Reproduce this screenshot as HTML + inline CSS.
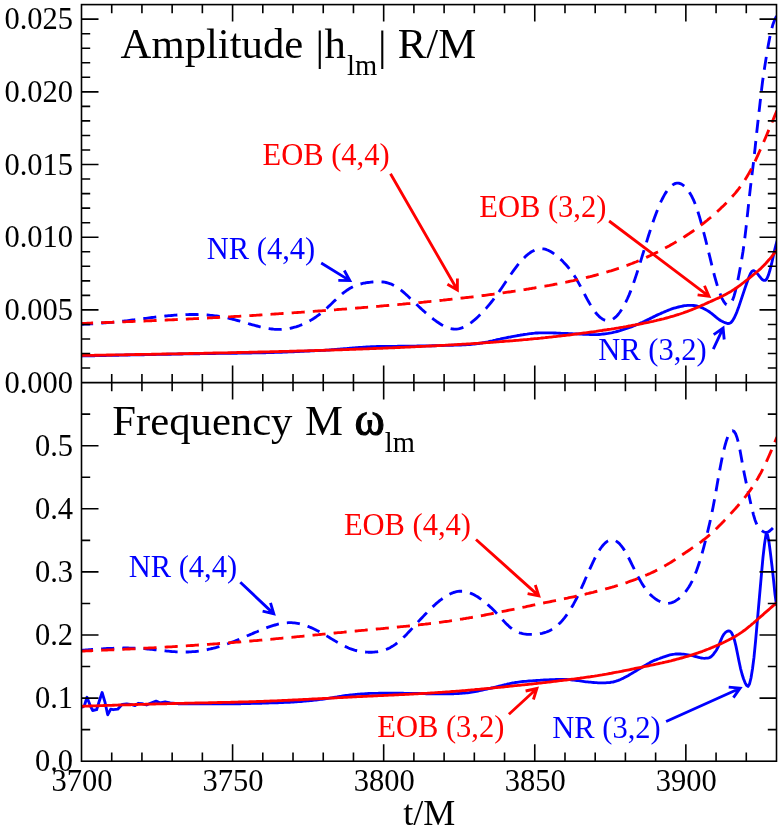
<!DOCTYPE html>
<html>
<head>
<meta charset="utf-8">
<title>Amplitude and Frequency: NR vs EOB</title>
<style>
html, body { margin: 0; padding: 0; background: #ffffff; }
body { width: 781px; height: 830px; overflow: hidden; font-family: "Liberation Serif", serif; }
svg { display: block; transform: translateZ(0); will-change: transform; }
</style>
</head>
<body>
<svg width="781" height="830" viewBox="0 0 781 830" font-family="'Liberation Serif', serif">
<rect x="0" y="0" width="781" height="830" fill="#ffffff"/>
<defs>
<clipPath id="c1"><rect x="81.5" y="4.6" width="695.0" height="378.0"/></clipPath>
<clipPath id="c2"><rect x="81.5" y="382.6" width="695.0" height="378.6"/></clipPath>
</defs>
<g fill="none" stroke-width="2.85" stroke-linejoin="round" clip-path="url(#c1)">
<path d="M80.0,324.5 L81.5,324.4 L83.0,324.3 L84.5,324.2 L86.0,324.1 L87.5,324.0 L89.0,324.0 L90.5,323.9 L92.0,323.8 L93.5,323.7 L95.0,323.6 L96.5,323.5 L98.0,323.4 L99.5,323.3 L101.0,323.2 L102.5,323.0 L104.0,322.9 L105.5,322.8 L107.0,322.7 L108.5,322.6 L110.0,322.4 L111.5,322.3 L113.0,322.2 L114.5,322.0 L116.0,321.9 L117.5,321.8 L119.0,321.6 L120.5,321.4 L122.0,321.3 L123.5,321.1 L125.0,320.9 L126.5,320.8 L128.0,320.6 L129.5,320.4 L131.0,320.2 L132.5,320.0 L134.0,319.8 L135.5,319.7 L137.0,319.5 L138.5,319.3 L140.0,319.1 L141.5,318.9 L143.0,318.7 L144.5,318.5 L146.0,318.3 L147.5,318.1 L149.0,317.9 L150.5,317.7 L152.0,317.5 L153.5,317.4 L155.0,317.2 L156.5,317.0 L158.0,316.8 L159.5,316.7 L161.0,316.5 L162.5,316.3 L164.0,316.2 L165.5,316.0 L167.0,315.9 L168.5,315.7 L170.0,315.6 L171.5,315.5 L173.0,315.4 L174.5,315.2 L176.0,315.1 L177.5,315.0 L179.0,314.9 L180.5,314.9 L182.0,314.8 L183.5,314.7 L185.0,314.7 L186.5,314.6 L188.0,314.6 L189.5,314.5 L191.0,314.5 L192.5,314.5 L194.0,314.5 L195.5,314.5 L197.0,314.5 L198.5,314.6 L200.0,314.6 L201.5,314.7 L203.0,314.7 L204.5,314.8 L206.0,314.9 L207.5,315.0 L209.0,315.1 L210.5,315.3 L212.0,315.4 L213.5,315.6 L215.0,315.8 L216.5,316.0 L218.0,316.2 L219.5,316.4 L221.0,316.6 L222.5,316.9 L224.0,317.2 L225.5,317.5 L227.0,317.8 L228.5,318.2 L230.0,318.5 L231.5,318.9 L233.0,319.3 L234.5,319.7 L236.0,320.1 L237.5,320.5 L239.0,320.9 L240.5,321.3 L242.0,321.8 L243.5,322.2 L245.0,322.6 L246.5,323.1 L248.0,323.5 L249.5,324.0 L251.0,324.4 L252.5,324.8 L254.0,325.2 L255.5,325.6 L257.0,326.0 L258.5,326.4 L260.0,326.8 L261.5,327.1 L263.0,327.5 L264.5,327.8 L266.0,328.1 L267.5,328.4 L269.0,328.6 L270.5,328.8 L272.0,329.0 L273.5,329.2 L275.0,329.3 L276.5,329.4 L278.0,329.4 L279.5,329.4 L281.0,329.4 L282.5,329.3 L284.0,329.2 L285.5,329.0 L287.0,328.8 L288.5,328.6 L290.0,328.3 L291.5,328.0 L293.0,327.6 L294.5,327.2 L296.0,326.8 L297.5,326.3 L299.0,325.8 L300.5,325.2 L302.0,324.6 L303.5,324.0 L305.0,323.3 L306.5,322.6 L308.0,321.8 L309.5,321.0 L311.0,320.1 L312.5,319.2 L314.0,318.3 L315.5,317.3 L317.0,316.2 L318.5,315.1 L320.0,314.0 L321.5,312.8 L323.0,311.6 L324.5,310.3 L326.0,308.9 L327.5,307.6 L329.0,306.1 L330.5,304.7 L332.0,303.3 L333.5,301.8 L335.0,300.4 L336.5,299.0 L338.0,297.6 L339.5,296.2 L341.0,294.9 L342.5,293.6 L344.0,292.4 L345.5,291.3 L347.0,290.2 L348.5,289.2 L350.0,288.3 L351.5,287.5 L353.0,286.7 L354.5,286.1 L356.0,285.4 L357.5,284.9 L359.0,284.4 L360.5,284.0 L362.0,283.6 L363.5,283.2 L365.0,283.0 L366.5,282.7 L368.0,282.5 L369.5,282.3 L371.0,282.1 L372.5,282.0 L374.0,281.9 L375.5,281.8 L377.0,281.8 L378.5,281.8 L380.0,281.8 L381.5,281.9 L383.0,282.0 L384.5,282.2 L386.0,282.5 L387.5,282.9 L389.0,283.3 L390.5,283.8 L392.0,284.4 L393.5,285.2 L395.0,286.0 L396.5,286.9 L398.0,287.9 L399.5,289.0 L401.0,290.2 L402.5,291.4 L404.0,292.7 L405.5,294.0 L407.0,295.3 L408.5,296.7 L410.0,298.2 L411.5,299.6 L413.0,301.0 L414.5,302.5 L416.0,303.9 L417.5,305.3 L419.0,306.7 L420.5,308.1 L422.0,309.5 L423.5,310.8 L425.0,312.2 L426.5,313.5 L428.0,314.8 L429.5,316.0 L431.0,317.2 L432.5,318.4 L434.0,319.6 L435.5,320.7 L437.0,321.8 L438.5,322.8 L440.0,323.8 L441.5,324.7 L443.0,325.5 L444.5,326.3 L446.0,327.0 L447.5,327.6 L449.0,328.1 L450.5,328.5 L452.0,328.8 L453.5,329.0 L455.0,329.1 L456.5,329.1 L458.0,328.9 L459.5,328.6 L461.0,328.2 L462.5,327.6 L464.0,327.0 L465.5,326.2 L467.0,325.4 L468.5,324.4 L470.0,323.4 L471.5,322.3 L473.0,321.1 L474.5,319.9 L476.0,318.6 L477.5,317.2 L479.0,315.8 L480.5,314.3 L482.0,312.8 L483.5,311.2 L485.0,309.6 L486.5,307.9 L488.0,306.1 L489.5,304.3 L491.0,302.5 L492.5,300.6 L494.0,298.6 L495.5,296.6 L497.0,294.6 L498.5,292.5 L500.0,290.4 L501.5,288.2 L503.0,286.0 L504.5,283.8 L506.0,281.5 L507.5,279.3 L509.0,277.1 L510.5,274.9 L512.0,272.7 L513.5,270.6 L515.0,268.6 L516.5,266.6 L518.0,264.6 L519.5,262.8 L521.0,261.1 L522.5,259.4 L524.0,257.9 L525.5,256.4 L527.0,255.1 L528.5,253.9 L530.0,252.8 L531.5,251.8 L533.0,251.0 L534.5,250.2 L536.0,249.7 L537.5,249.2 L539.0,248.9 L540.5,248.8 L542.0,248.8 L543.5,248.9 L545.0,249.2 L546.5,249.7 L548.0,250.3 L549.5,251.0 L551.0,251.8 L552.5,252.7 L554.0,253.8 L555.5,254.9 L557.0,256.1 L558.5,257.4 L560.0,258.7 L561.5,260.1 L563.0,261.6 L564.5,263.2 L566.0,264.8 L567.5,266.5 L569.0,268.4 L570.5,270.3 L572.0,272.4 L573.5,274.5 L575.0,276.8 L576.5,279.3 L578.0,281.9 L579.5,284.6 L581.0,287.4 L582.5,290.3 L584.0,293.1 L585.5,296.0 L587.0,298.8 L588.5,301.5 L590.0,304.1 L591.5,306.6 L593.0,308.9 L594.5,311.1 L596.0,313.0 L597.5,314.8 L599.0,316.3 L600.5,317.6 L602.0,318.7 L603.5,319.6 L605.0,320.2 L606.5,320.6 L608.0,320.7 L609.5,320.5 L611.0,320.1 L612.5,319.4 L614.0,318.4 L615.5,317.2 L617.0,315.7 L618.5,314.0 L620.0,312.0 L621.5,309.8 L623.0,307.3 L624.5,304.7 L626.0,301.7 L627.5,298.5 L629.0,295.1 L630.5,291.4 L632.0,287.5 L633.5,283.3 L635.0,278.9 L636.5,274.4 L638.0,269.7 L639.5,264.9 L641.0,260.1 L642.5,255.2 L644.0,250.3 L645.5,245.4 L647.0,240.6 L648.5,235.8 L650.0,231.1 L651.5,226.5 L653.0,222.0 L654.5,217.8 L656.0,213.7 L657.5,209.8 L659.0,206.1 L660.5,202.6 L662.0,199.5 L663.5,196.6 L665.0,193.9 L666.5,191.6 L668.0,189.5 L669.5,187.7 L671.0,186.2 L672.5,185.0 L674.0,184.1 L675.5,183.4 L677.0,183.1 L678.5,183.1 L680.0,183.5 L681.5,184.1 L683.0,185.1 L684.5,186.3 L686.0,187.9 L687.5,189.7 L689.0,191.8 L690.5,194.1 L692.0,196.8 L693.5,199.9 L695.0,203.5 L696.5,207.5 L698.0,212.0 L699.5,216.9 L701.0,222.2 L702.5,227.8 L704.0,233.5 L705.5,239.4 L707.0,245.4 L708.5,251.5 L710.0,257.7 L711.5,263.9 L713.0,269.9 L714.5,275.8 L716.0,281.2 L717.5,286.2 L719.0,290.7 L720.5,294.8 L722.0,298.3 L723.5,301.1 L725.0,303.3 L726.5,304.6 L728.0,305.1 L729.5,304.5 L731.0,303.0 L732.5,300.2 L734.0,296.2 L735.5,290.8 L737.0,284.3 L738.5,277.0 L740.0,269.1 L741.5,260.7 L743.0,251.5 L744.5,240.8 L746.0,228.1 L747.5,214.3 L749.0,200.3 L750.5,186.9 L752.0,174.5 L753.5,162.4 L755.0,148.9 L756.5,134.6 L758.0,121.0 L759.5,107.8 L761.0,94.4 L762.5,82.0 L764.0,71.5 L765.5,61.9 L767.0,52.6 L768.5,43.9 L770.0,36.2 L771.5,29.5 L773.0,24.2 L774.5,20.2 L776.0,17.2 L777.5,14.8" stroke="#0000ff" stroke-dasharray="13.1 8.1"/>
<path d="M80.0,323.5 L81.5,323.4 L83.0,323.4 L84.5,323.3 L86.0,323.3 L87.5,323.2 L89.0,323.2 L90.5,323.1 L92.0,323.0 L93.5,323.0 L95.0,322.9 L96.5,322.9 L98.0,322.8 L99.5,322.8 L101.0,322.7 L102.5,322.6 L104.0,322.6 L105.5,322.5 L107.0,322.5 L108.5,322.4 L110.0,322.4 L111.5,322.3 L113.0,322.2 L114.5,322.2 L116.0,322.1 L117.5,322.1 L119.0,322.0 L120.5,321.9 L122.0,321.9 L123.5,321.8 L125.0,321.8 L126.5,321.7 L128.0,321.6 L129.5,321.6 L131.0,321.5 L132.5,321.5 L134.0,321.4 L135.5,321.3 L137.0,321.3 L138.5,321.2 L140.0,321.2 L141.5,321.1 L143.0,321.0 L144.5,321.0 L146.0,320.9 L147.5,320.8 L149.0,320.8 L150.5,320.7 L152.0,320.7 L153.5,320.6 L155.0,320.5 L156.5,320.5 L158.0,320.4 L159.5,320.3 L161.0,320.3 L162.5,320.2 L164.0,320.1 L165.5,320.1 L167.0,320.0 L168.5,319.9 L170.0,319.9 L171.5,319.8 L173.0,319.7 L174.5,319.7 L176.0,319.6 L177.5,319.5 L179.0,319.4 L180.5,319.4 L182.0,319.3 L183.5,319.2 L185.0,319.2 L186.5,319.1 L188.0,319.0 L189.5,318.9 L191.0,318.9 L192.5,318.8 L194.0,318.7 L195.5,318.6 L197.0,318.6 L198.5,318.5 L200.0,318.4 L201.5,318.3 L203.0,318.3 L204.5,318.2 L206.0,318.1 L207.5,318.0 L209.0,317.9 L210.5,317.9 L212.0,317.8 L213.5,317.7 L215.0,317.6 L216.5,317.5 L218.0,317.5 L219.5,317.4 L221.0,317.3 L222.5,317.2 L224.0,317.1 L225.5,317.0 L227.0,317.0 L228.5,316.9 L230.0,316.8 L231.5,316.7 L233.0,316.6 L234.5,316.5 L236.0,316.4 L237.5,316.4 L239.0,316.3 L240.5,316.2 L242.0,316.1 L243.5,316.0 L245.0,315.9 L246.5,315.8 L248.0,315.7 L249.5,315.6 L251.0,315.6 L252.5,315.5 L254.0,315.4 L255.5,315.3 L257.0,315.2 L258.5,315.1 L260.0,315.0 L261.5,314.9 L263.0,314.8 L264.5,314.7 L266.0,314.6 L267.5,314.5 L269.0,314.4 L270.5,314.3 L272.0,314.2 L273.5,314.1 L275.0,314.0 L276.5,313.9 L278.0,313.8 L279.5,313.7 L281.0,313.6 L282.5,313.5 L284.0,313.4 L285.5,313.3 L287.0,313.2 L288.5,313.1 L290.0,313.0 L291.5,312.9 L293.0,312.8 L294.5,312.7 L296.0,312.6 L297.5,312.5 L299.0,312.4 L300.5,312.3 L302.0,312.2 L303.5,312.1 L305.0,312.0 L306.5,311.9 L308.0,311.8 L309.5,311.7 L311.0,311.6 L312.5,311.4 L314.0,311.3 L315.5,311.2 L317.0,311.1 L318.5,311.0 L320.0,310.9 L321.5,310.8 L323.0,310.7 L324.5,310.6 L326.0,310.5 L327.5,310.3 L329.0,310.2 L330.5,310.1 L332.0,310.0 L333.5,309.9 L335.0,309.8 L336.5,309.7 L338.0,309.5 L339.5,309.4 L341.0,309.3 L342.5,309.2 L344.0,309.1 L345.5,309.0 L347.0,308.8 L348.5,308.7 L350.0,308.6 L351.5,308.5 L353.0,308.4 L354.5,308.2 L356.0,308.1 L357.5,308.0 L359.0,307.9 L360.5,307.8 L362.0,307.6 L363.5,307.5 L365.0,307.4 L366.5,307.3 L368.0,307.1 L369.5,307.0 L371.0,306.9 L372.5,306.8 L374.0,306.6 L375.5,306.5 L377.0,306.4 L378.5,306.3 L380.0,306.1 L381.5,306.0 L383.0,305.9 L384.5,305.7 L386.0,305.6 L387.5,305.5 L389.0,305.4 L390.5,305.2 L392.0,305.1 L393.5,305.0 L395.0,304.8 L396.5,304.7 L398.0,304.6 L399.5,304.4 L401.0,304.3 L402.5,304.2 L404.0,304.0 L405.5,303.9 L407.0,303.7 L408.5,303.6 L410.0,303.5 L411.5,303.3 L413.0,303.2 L414.5,303.0 L416.0,302.9 L417.5,302.8 L419.0,302.6 L420.5,302.5 L422.0,302.3 L423.5,302.2 L425.0,302.0 L426.5,301.9 L428.0,301.7 L429.5,301.6 L431.0,301.4 L432.5,301.3 L434.0,301.1 L435.5,301.0 L437.0,300.8 L438.5,300.7 L440.0,300.5 L441.5,300.3 L443.0,300.2 L444.5,300.0 L446.0,299.9 L447.5,299.7 L449.0,299.5 L450.5,299.4 L452.0,299.2 L453.5,299.0 L455.0,298.9 L456.5,298.7 L458.0,298.5 L459.5,298.4 L461.0,298.2 L462.5,298.0 L464.0,297.9 L465.5,297.7 L467.0,297.5 L468.5,297.3 L470.0,297.1 L471.5,297.0 L473.0,296.8 L474.5,296.6 L476.0,296.4 L477.5,296.2 L479.0,296.0 L480.5,295.9 L482.0,295.7 L483.5,295.5 L485.0,295.3 L486.5,295.1 L488.0,294.9 L489.5,294.7 L491.0,294.5 L492.5,294.3 L494.0,294.1 L495.5,293.9 L497.0,293.7 L498.5,293.5 L500.0,293.3 L501.5,293.1 L503.0,292.8 L504.5,292.6 L506.0,292.4 L507.5,292.2 L509.0,292.0 L510.5,291.8 L512.0,291.5 L513.5,291.3 L515.0,291.1 L516.5,290.9 L518.0,290.6 L519.5,290.4 L521.0,290.2 L522.5,289.9 L524.0,289.7 L525.5,289.5 L527.0,289.2 L528.5,289.0 L530.0,288.7 L531.5,288.5 L533.0,288.2 L534.5,288.0 L536.0,287.7 L537.5,287.5 L539.0,287.2 L540.5,287.0 L542.0,286.7 L543.5,286.4 L545.0,286.2 L546.5,285.9 L548.0,285.6 L549.5,285.4 L551.0,285.1 L552.5,284.8 L554.0,284.5 L555.5,284.2 L557.0,284.0 L558.5,283.7 L560.0,283.4 L561.5,283.1 L563.0,282.8 L564.5,282.5 L566.0,282.2 L567.5,281.8 L569.0,281.5 L570.5,281.2 L572.0,280.9 L573.5,280.6 L575.0,280.2 L576.5,279.9 L578.0,279.6 L579.5,279.2 L581.0,278.9 L582.5,278.5 L584.0,278.1 L585.5,277.8 L587.0,277.4 L588.5,277.0 L590.0,276.7 L591.5,276.3 L593.0,275.9 L594.5,275.5 L596.0,275.1 L597.5,274.7 L599.0,274.3 L600.5,273.9 L602.0,273.4 L603.5,273.0 L605.0,272.6 L606.5,272.1 L608.0,271.7 L609.5,271.2 L611.0,270.8 L612.5,270.3 L614.0,269.8 L615.5,269.3 L617.0,268.8 L618.5,268.3 L620.0,267.8 L621.5,267.3 L623.0,266.8 L624.5,266.3 L626.0,265.7 L627.5,265.2 L629.0,264.6 L630.5,264.0 L632.0,263.5 L633.5,262.9 L635.0,262.3 L636.5,261.7 L638.0,261.0 L639.5,260.4 L641.0,259.8 L642.5,259.1 L644.0,258.5 L645.5,257.8 L647.0,257.1 L648.5,256.4 L650.0,255.7 L651.5,255.0 L653.0,254.3 L654.5,253.6 L656.0,252.8 L657.5,252.1 L659.0,251.3 L660.5,250.5 L662.0,249.7 L663.5,248.9 L665.0,248.1 L666.5,247.3 L668.0,246.5 L669.5,245.7 L671.0,244.8 L672.5,244.0 L674.0,243.1 L675.5,242.2 L677.0,241.3 L678.5,240.4 L680.0,239.5 L681.5,238.6 L683.0,237.6 L684.5,236.7 L686.0,235.7 L687.5,234.7 L689.0,233.8 L690.5,232.7 L692.0,231.7 L693.5,230.7 L695.0,229.6 L696.5,228.5 L698.0,227.4 L699.5,226.3 L701.0,225.2 L702.5,224.0 L704.0,222.9 L705.5,221.7 L707.0,220.5 L708.5,219.2 L710.0,218.0 L711.5,216.7 L713.0,215.4 L714.5,214.1 L716.0,212.7 L717.5,211.4 L719.0,210.0 L720.5,208.6 L722.0,207.1 L723.5,205.7 L725.0,204.2 L726.5,202.7 L728.0,201.2 L729.5,199.6 L731.0,198.0 L732.5,196.3 L734.0,194.6 L735.5,192.9 L737.0,191.0 L738.5,189.1 L740.0,187.1 L741.5,185.1 L743.0,182.9 L744.5,180.6 L746.0,178.2 L747.5,175.7 L749.0,173.1 L750.5,170.4 L752.0,167.5 L753.5,164.5 L755.0,161.4 L756.5,158.2 L758.0,154.9 L759.5,151.5 L761.0,148.1 L762.5,144.7 L764.0,141.2 L765.5,137.7 L767.0,134.2 L768.5,130.6 L770.0,127.1 L771.5,123.6 L773.0,120.0 L774.5,116.4 L776.0,112.9 L777.0,110.5" stroke="#ff0000" stroke-dasharray="13.1 8.1"/>
<path d="M80.0,356.0 L81.5,356.0 L83.0,355.9 L84.5,355.9 L86.0,355.9 L87.5,355.8 L89.0,355.8 L90.5,355.8 L92.0,355.7 L93.5,355.7 L95.0,355.7 L96.5,355.6 L98.0,355.6 L99.5,355.6 L101.0,355.5 L102.5,355.5 L104.0,355.5 L105.5,355.5 L107.0,355.4 L108.5,355.4 L110.0,355.4 L111.5,355.3 L113.0,355.3 L114.5,355.3 L116.0,355.2 L117.5,355.2 L119.0,355.2 L120.5,355.1 L122.0,355.1 L123.5,355.1 L125.0,355.1 L126.5,355.0 L128.0,355.0 L129.5,355.0 L131.0,354.9 L132.5,354.9 L134.0,354.9 L135.5,354.9 L137.0,354.8 L138.5,354.8 L140.0,354.8 L141.5,354.7 L143.0,354.7 L144.5,354.7 L146.0,354.6 L147.5,354.6 L149.0,354.6 L150.5,354.6 L152.0,354.5 L153.5,354.5 L155.0,354.5 L156.5,354.4 L158.0,354.4 L159.5,354.4 L161.0,354.4 L162.5,354.3 L164.0,354.3 L165.5,354.3 L167.0,354.2 L168.5,354.2 L170.0,354.2 L171.5,354.2 L173.0,354.1 L174.5,354.1 L176.0,354.1 L177.5,354.0 L179.0,354.0 L180.5,354.0 L182.0,354.0 L183.5,353.9 L185.0,353.9 L186.5,353.9 L188.0,353.9 L189.5,353.8 L191.0,353.8 L192.5,353.8 L194.0,353.8 L195.5,353.7 L197.0,353.7 L198.5,353.7 L200.0,353.7 L201.5,353.6 L203.0,353.6 L204.5,353.6 L206.0,353.6 L207.5,353.6 L209.0,353.5 L210.5,353.5 L212.0,353.5 L213.5,353.5 L215.0,353.5 L216.5,353.4 L218.0,353.4 L219.5,353.4 L221.0,353.4 L222.5,353.4 L224.0,353.3 L225.5,353.3 L227.0,353.3 L228.5,353.3 L230.0,353.3 L231.5,353.2 L233.0,353.2 L234.5,353.2 L236.0,353.2 L237.5,353.2 L239.0,353.1 L240.5,353.1 L242.0,353.1 L243.5,353.1 L245.0,353.0 L246.5,353.0 L248.0,353.0 L249.5,353.0 L251.0,353.0 L252.5,352.9 L254.0,352.9 L255.5,352.9 L257.0,352.9 L258.5,352.8 L260.0,352.8 L261.5,352.8 L263.0,352.7 L264.5,352.7 L266.0,352.7 L267.5,352.6 L269.0,352.6 L270.5,352.6 L272.0,352.5 L273.5,352.5 L275.0,352.4 L276.5,352.4 L278.0,352.3 L279.5,352.3 L281.0,352.2 L282.5,352.2 L284.0,352.1 L285.5,352.1 L287.0,352.0 L288.5,351.9 L290.0,351.9 L291.5,351.8 L293.0,351.7 L294.5,351.7 L296.0,351.6 L297.5,351.6 L299.0,351.5 L300.5,351.4 L302.0,351.3 L303.5,351.3 L305.0,351.2 L306.5,351.1 L308.0,351.1 L309.5,351.0 L311.0,350.9 L312.5,350.9 L314.0,350.8 L315.5,350.7 L317.0,350.6 L318.5,350.6 L320.0,350.5 L321.5,350.4 L323.0,350.3 L324.5,350.3 L326.0,350.2 L327.5,350.1 L329.0,350.0 L330.5,349.8 L332.0,349.7 L333.5,349.6 L335.0,349.5 L336.5,349.4 L338.0,349.2 L339.5,349.1 L341.0,349.0 L342.5,348.9 L344.0,348.7 L345.5,348.6 L347.0,348.5 L348.5,348.3 L350.0,348.2 L351.5,348.1 L353.0,347.9 L354.5,347.8 L356.0,347.7 L357.5,347.6 L359.0,347.5 L360.5,347.4 L362.0,347.3 L363.5,347.2 L365.0,347.1 L366.5,347.0 L368.0,346.9 L369.5,346.8 L371.0,346.7 L372.5,346.7 L374.0,346.6 L375.5,346.6 L377.0,346.5 L378.5,346.5 L380.0,346.5 L381.5,346.4 L383.0,346.4 L384.5,346.4 L386.0,346.4 L387.5,346.3 L389.0,346.3 L390.5,346.3 L392.0,346.3 L393.5,346.3 L395.0,346.3 L396.5,346.3 L398.0,346.2 L399.5,346.2 L401.0,346.2 L402.5,346.2 L404.0,346.2 L405.5,346.2 L407.0,346.2 L408.5,346.2 L410.0,346.1 L411.5,346.1 L413.0,346.1 L414.5,346.1 L416.0,346.1 L417.5,346.0 L419.0,346.0 L420.5,346.0 L422.0,346.0 L423.5,345.9 L425.0,345.9 L426.5,345.9 L428.0,345.8 L429.5,345.8 L431.0,345.8 L432.5,345.7 L434.0,345.7 L435.5,345.7 L437.0,345.6 L438.5,345.6 L440.0,345.6 L441.5,345.5 L443.0,345.5 L444.5,345.4 L446.0,345.4 L447.5,345.4 L449.0,345.3 L450.5,345.3 L452.0,345.2 L453.5,345.2 L455.0,345.1 L456.5,345.1 L458.0,345.1 L459.5,345.0 L461.0,345.0 L462.5,344.9 L464.0,344.8 L465.5,344.8 L467.0,344.7 L468.5,344.6 L470.0,344.5 L471.5,344.4 L473.0,344.2 L474.5,344.0 L476.0,343.9 L477.5,343.7 L479.0,343.5 L480.5,343.2 L482.0,343.0 L483.5,342.7 L485.0,342.4 L486.5,342.1 L488.0,341.8 L489.5,341.4 L491.0,341.1 L492.5,340.8 L494.0,340.4 L495.5,340.1 L497.0,339.7 L498.5,339.4 L500.0,339.1 L501.5,338.7 L503.0,338.4 L504.5,338.1 L506.0,337.8 L507.5,337.5 L509.0,337.2 L510.5,337.0 L512.0,336.7 L513.5,336.4 L515.0,336.1 L516.5,335.8 L518.0,335.5 L519.5,335.3 L521.0,335.0 L522.5,334.8 L524.0,334.5 L525.5,334.3 L527.0,334.1 L528.5,333.8 L530.0,333.6 L531.5,333.5 L533.0,333.3 L534.5,333.2 L536.0,333.0 L537.5,333.0 L539.0,332.9 L540.5,332.8 L542.0,332.8 L543.5,332.8 L545.0,332.8 L546.5,332.8 L548.0,332.8 L549.5,332.8 L551.0,332.9 L552.5,332.9 L554.0,333.0 L555.5,333.0 L557.0,333.1 L558.5,333.2 L560.0,333.2 L561.5,333.3 L563.0,333.3 L564.5,333.4 L566.0,333.4 L567.5,333.5 L569.0,333.6 L570.5,333.6 L572.0,333.7 L573.5,333.8 L575.0,333.8 L576.5,333.9 L578.0,333.9 L579.5,334.0 L581.0,334.1 L582.5,334.2 L584.0,334.2 L585.5,334.3 L587.0,334.4 L588.5,334.4 L590.0,334.5 L591.5,334.6 L593.0,334.6 L594.5,334.6 L596.0,334.6 L597.5,334.6 L599.0,334.5 L600.5,334.4 L602.0,334.2 L603.5,334.0 L605.0,333.8 L606.5,333.6 L608.0,333.4 L609.5,333.1 L611.0,332.9 L612.5,332.6 L614.0,332.2 L615.5,331.9 L617.0,331.5 L618.5,331.1 L620.0,330.7 L621.5,330.2 L623.0,329.7 L624.5,329.2 L626.0,328.7 L627.5,328.2 L629.0,327.7 L630.5,327.2 L632.0,326.6 L633.5,326.0 L635.0,325.4 L636.5,324.8 L638.0,324.2 L639.5,323.6 L641.0,322.9 L642.5,322.3 L644.0,321.6 L645.5,320.8 L647.0,320.1 L648.5,319.4 L650.0,318.6 L651.5,317.9 L653.0,317.1 L654.5,316.4 L656.0,315.6 L657.5,314.9 L659.0,314.2 L660.5,313.6 L662.0,312.9 L663.5,312.3 L665.0,311.6 L666.5,311.0 L668.0,310.4 L669.5,309.8 L671.0,309.2 L672.5,308.7 L674.0,308.2 L675.5,307.8 L677.0,307.4 L678.5,307.0 L680.0,306.6 L681.5,306.3 L683.0,306.0 L684.5,305.7 L686.0,305.6 L687.5,305.4 L689.0,305.3 L690.5,305.3 L692.0,305.3 L693.5,305.5 L695.0,305.7 L696.5,306.0 L698.0,306.4 L699.5,306.8 L701.0,307.4 L702.5,308.0 L704.0,308.7 L705.5,309.5 L707.0,310.4 L708.5,311.3 L710.0,312.3 L711.5,313.4 L713.0,314.6 L714.5,315.8 L716.0,317.1 L717.5,318.3 L719.0,319.5 L720.5,320.5 L722.0,321.3 L723.5,322.0 L725.0,322.6 L726.5,323.1 L728.0,323.5 L729.5,323.4 L731.0,322.5 L732.5,320.8 L734.0,318.3 L735.5,315.2 L737.0,311.6 L738.5,307.6 L740.0,303.1 L741.5,298.6 L743.0,294.1 L744.5,289.6 L746.0,285.3 L747.5,281.1 L749.0,277.0 L750.5,273.5 L752.0,271.2 L753.5,270.6 L755.0,271.4 L756.5,272.8 L758.0,274.4 L759.5,276.3 L761.0,278.2 L762.5,279.7 L764.0,280.4 L765.5,280.3 L767.0,278.5 L768.5,274.9 L770.0,270.0 L771.5,264.2 L773.0,257.5 L774.5,250.6 L776.0,244.7 L777.2,240.6" stroke="#0000ff"/>
<path d="M80.0,355.5 L81.5,355.5 L83.0,355.4 L84.5,355.4 L86.0,355.4 L87.5,355.4 L89.0,355.3 L90.5,355.3 L92.0,355.3 L93.5,355.3 L95.0,355.2 L96.5,355.2 L98.0,355.2 L99.5,355.2 L101.0,355.1 L102.5,355.1 L104.0,355.1 L105.5,355.1 L107.0,355.0 L108.5,355.0 L110.0,355.0 L111.5,355.0 L113.0,354.9 L114.5,354.9 L116.0,354.9 L117.5,354.9 L119.0,354.8 L120.5,354.8 L122.0,354.8 L123.5,354.8 L125.0,354.7 L126.5,354.7 L128.0,354.7 L129.5,354.6 L131.0,354.6 L132.5,354.6 L134.0,354.6 L135.5,354.5 L137.0,354.5 L138.5,354.5 L140.0,354.5 L141.5,354.4 L143.0,354.4 L144.5,354.4 L146.0,354.4 L147.5,354.3 L149.0,354.3 L150.5,354.3 L152.0,354.2 L153.5,354.2 L155.0,354.2 L156.5,354.2 L158.0,354.1 L159.5,354.1 L161.0,354.1 L162.5,354.0 L164.0,354.0 L165.5,354.0 L167.0,354.0 L168.5,353.9 L170.0,353.9 L171.5,353.9 L173.0,353.9 L174.5,353.8 L176.0,353.8 L177.5,353.8 L179.0,353.7 L180.5,353.7 L182.0,353.7 L183.5,353.7 L185.0,353.6 L186.5,353.6 L188.0,353.6 L189.5,353.5 L191.0,353.5 L192.5,353.5 L194.0,353.4 L195.5,353.4 L197.0,353.4 L198.5,353.4 L200.0,353.3 L201.5,353.3 L203.0,353.3 L204.5,353.2 L206.0,353.2 L207.5,353.2 L209.0,353.1 L210.5,353.1 L212.0,353.1 L213.5,353.0 L215.0,353.0 L216.5,353.0 L218.0,353.0 L219.5,352.9 L221.0,352.9 L222.5,352.9 L224.0,352.8 L225.5,352.8 L227.0,352.8 L228.5,352.7 L230.0,352.7 L231.5,352.7 L233.0,352.6 L234.5,352.6 L236.0,352.6 L237.5,352.5 L239.0,352.5 L240.5,352.5 L242.0,352.4 L243.5,352.4 L245.0,352.4 L246.5,352.3 L248.0,352.3 L249.5,352.2 L251.0,352.2 L252.5,352.2 L254.0,352.1 L255.5,352.1 L257.0,352.1 L258.5,352.0 L260.0,352.0 L261.5,352.0 L263.0,351.9 L264.5,351.9 L266.0,351.9 L267.5,351.8 L269.0,351.8 L270.5,351.7 L272.0,351.7 L273.5,351.7 L275.0,351.6 L276.5,351.6 L278.0,351.6 L279.5,351.5 L281.0,351.5 L282.5,351.4 L284.0,351.4 L285.5,351.4 L287.0,351.3 L288.5,351.3 L290.0,351.2 L291.5,351.2 L293.0,351.2 L294.5,351.1 L296.0,351.1 L297.5,351.0 L299.0,351.0 L300.5,350.9 L302.0,350.9 L303.5,350.9 L305.0,350.8 L306.5,350.8 L308.0,350.7 L309.5,350.7 L311.0,350.6 L312.5,350.6 L314.0,350.6 L315.5,350.5 L317.0,350.5 L318.5,350.4 L320.0,350.4 L321.5,350.3 L323.0,350.3 L324.5,350.2 L326.0,350.2 L327.5,350.1 L329.0,350.1 L330.5,350.1 L332.0,350.0 L333.5,350.0 L335.0,349.9 L336.5,349.9 L338.0,349.8 L339.5,349.8 L341.0,349.7 L342.5,349.7 L344.0,349.6 L345.5,349.6 L347.0,349.5 L348.5,349.5 L350.0,349.4 L351.5,349.3 L353.0,349.3 L354.5,349.2 L356.0,349.2 L357.5,349.1 L359.0,349.1 L360.5,349.0 L362.0,349.0 L363.5,348.9 L365.0,348.9 L366.5,348.8 L368.0,348.7 L369.5,348.7 L371.0,348.6 L372.5,348.6 L374.0,348.5 L375.5,348.5 L377.0,348.4 L378.5,348.3 L380.0,348.3 L381.5,348.2 L383.0,348.2 L384.5,348.1 L386.0,348.0 L387.5,348.0 L389.0,347.9 L390.5,347.8 L392.0,347.8 L393.5,347.7 L395.0,347.7 L396.5,347.6 L398.0,347.5 L399.5,347.5 L401.0,347.4 L402.5,347.3 L404.0,347.3 L405.5,347.2 L407.0,347.1 L408.5,347.1 L410.0,347.0 L411.5,346.9 L413.0,346.8 L414.5,346.8 L416.0,346.7 L417.5,346.6 L419.0,346.6 L420.5,346.5 L422.0,346.4 L423.5,346.3 L425.0,346.3 L426.5,346.2 L428.0,346.1 L429.5,346.0 L431.0,346.0 L432.5,345.9 L434.0,345.8 L435.5,345.7 L437.0,345.7 L438.5,345.6 L440.0,345.5 L441.5,345.4 L443.0,345.3 L444.5,345.3 L446.0,345.2 L447.5,345.1 L449.0,345.0 L450.5,344.9 L452.0,344.8 L453.5,344.8 L455.0,344.7 L456.5,344.6 L458.0,344.5 L459.5,344.4 L461.0,344.3 L462.5,344.2 L464.0,344.1 L465.5,344.1 L467.0,344.0 L468.5,343.9 L470.0,343.8 L471.5,343.7 L473.0,343.6 L474.5,343.5 L476.0,343.4 L477.5,343.3 L479.0,343.2 L480.5,343.1 L482.0,343.0 L483.5,342.9 L485.0,342.8 L486.5,342.7 L488.0,342.6 L489.5,342.5 L491.0,342.4 L492.5,342.3 L494.0,342.2 L495.5,342.0 L497.0,341.9 L498.5,341.8 L500.0,341.7 L501.5,341.6 L503.0,341.5 L504.5,341.4 L506.0,341.2 L507.5,341.1 L509.0,341.0 L510.5,340.9 L512.0,340.8 L513.5,340.6 L515.0,340.5 L516.5,340.4 L518.0,340.3 L519.5,340.1 L521.0,340.0 L522.5,339.9 L524.0,339.7 L525.5,339.6 L527.0,339.5 L528.5,339.3 L530.0,339.2 L531.5,339.0 L533.0,338.9 L534.5,338.7 L536.0,338.6 L537.5,338.5 L539.0,338.3 L540.5,338.2 L542.0,338.0 L543.5,337.8 L545.0,337.7 L546.5,337.5 L548.0,337.4 L549.5,337.2 L551.0,337.1 L552.5,336.9 L554.0,336.7 L555.5,336.6 L557.0,336.4 L558.5,336.2 L560.0,336.0 L561.5,335.9 L563.0,335.7 L564.5,335.5 L566.0,335.3 L567.5,335.2 L569.0,335.0 L570.5,334.8 L572.0,334.6 L573.5,334.4 L575.0,334.2 L576.5,334.0 L578.0,333.8 L579.5,333.6 L581.0,333.4 L582.5,333.2 L584.0,333.0 L585.5,332.8 L587.0,332.6 L588.5,332.4 L590.0,332.2 L591.5,332.0 L593.0,331.8 L594.5,331.6 L596.0,331.4 L597.5,331.1 L599.0,330.9 L600.5,330.7 L602.0,330.5 L603.5,330.2 L605.0,330.0 L606.5,329.8 L608.0,329.5 L609.5,329.3 L611.0,329.1 L612.5,328.8 L614.0,328.6 L615.5,328.3 L617.0,328.1 L618.5,327.9 L620.0,327.6 L621.5,327.3 L623.0,327.1 L624.5,326.8 L626.0,326.6 L627.5,326.3 L629.0,326.0 L630.5,325.8 L632.0,325.5 L633.5,325.2 L635.0,325.0 L636.5,324.7 L638.0,324.4 L639.5,324.1 L641.0,323.8 L642.5,323.5 L644.0,323.2 L645.5,322.9 L647.0,322.6 L648.5,322.3 L650.0,321.9 L651.5,321.6 L653.0,321.3 L654.5,320.9 L656.0,320.6 L657.5,320.2 L659.0,319.9 L660.5,319.5 L662.0,319.1 L663.5,318.8 L665.0,318.4 L666.5,318.0 L668.0,317.6 L669.5,317.2 L671.0,316.7 L672.5,316.3 L674.0,315.9 L675.5,315.4 L677.0,314.9 L678.5,314.5 L680.0,314.0 L681.5,313.5 L683.0,313.0 L684.5,312.4 L686.0,311.9 L687.5,311.4 L689.0,310.8 L690.5,310.2 L692.0,309.6 L693.5,309.0 L695.0,308.4 L696.5,307.8 L698.0,307.1 L699.5,306.5 L701.0,305.8 L702.5,305.1 L704.0,304.5 L705.5,303.8 L707.0,303.1 L708.5,302.4 L710.0,301.8 L711.5,301.1 L713.0,300.4 L714.5,299.7 L716.0,299.0 L717.5,298.4 L719.0,297.7 L720.5,296.9 L722.0,296.2 L723.5,295.5 L725.0,294.7 L726.5,293.9 L728.0,293.1 L729.5,292.2 L731.0,291.4 L732.5,290.4 L734.0,289.5 L735.5,288.5 L737.0,287.5 L738.5,286.4 L740.0,285.3 L741.5,284.2 L743.0,283.0 L744.5,281.8 L746.0,280.7 L747.5,279.5 L749.0,278.3 L750.5,277.1 L752.0,275.9 L753.5,274.7 L755.0,273.5 L756.5,272.2 L758.0,271.0 L759.5,269.6 L761.0,268.3 L762.5,266.8 L764.0,265.3 L765.5,263.7 L767.0,262.0 L768.5,260.3 L770.0,258.6 L771.5,256.8 L773.0,254.9 L774.5,253.0 L776.0,251.1 L777.0,249.8" stroke="#ff0000"/>
</g>
<g fill="none" stroke-width="2.85" stroke-linejoin="round" clip-path="url(#c2)">
<path d="M80.0,650.4 L81.5,650.3 L83.0,650.2 L84.5,650.1 L86.0,649.9 L87.5,649.8 L89.0,649.7 L90.5,649.6 L92.0,649.5 L93.5,649.4 L95.0,649.3 L96.5,649.2 L98.0,649.1 L99.5,649.0 L101.0,648.9 L102.5,648.8 L104.0,648.7 L105.5,648.6 L107.0,648.5 L108.5,648.5 L110.0,648.4 L111.5,648.3 L113.0,648.3 L114.5,648.2 L116.0,648.2 L117.5,648.1 L119.0,648.1 L120.5,648.1 L122.0,648.1 L123.5,648.0 L125.0,648.0 L126.5,648.0 L128.0,648.0 L129.5,648.1 L131.0,648.1 L132.5,648.1 L134.0,648.2 L135.5,648.2 L137.0,648.3 L138.5,648.4 L140.0,648.4 L141.5,648.5 L143.0,648.6 L144.5,648.7 L146.0,648.9 L147.5,649.0 L149.0,649.1 L150.5,649.3 L152.0,649.4 L153.5,649.6 L155.0,649.8 L156.5,649.9 L158.0,650.1 L159.5,650.3 L161.0,650.4 L162.5,650.6 L164.0,650.7 L165.5,650.9 L167.0,651.1 L168.5,651.2 L170.0,651.3 L171.5,651.5 L173.0,651.6 L174.5,651.7 L176.0,651.8 L177.5,651.9 L179.0,651.9 L180.5,652.0 L182.0,652.0 L183.5,652.0 L185.0,652.0 L186.5,652.0 L188.0,652.0 L189.5,651.9 L191.0,651.8 L192.5,651.7 L194.0,651.6 L195.5,651.5 L197.0,651.3 L198.5,651.1 L200.0,650.9 L201.5,650.7 L203.0,650.4 L204.5,650.2 L206.0,649.9 L207.5,649.6 L209.0,649.2 L210.5,648.9 L212.0,648.5 L213.5,648.2 L215.0,647.8 L216.5,647.4 L218.0,646.9 L219.5,646.5 L221.0,646.0 L222.5,645.6 L224.0,645.1 L225.5,644.6 L227.0,644.0 L228.5,643.5 L230.0,642.9 L231.5,642.4 L233.0,641.8 L234.5,641.2 L236.0,640.6 L237.5,640.0 L239.0,639.4 L240.5,638.7 L242.0,638.1 L243.5,637.5 L245.0,636.8 L246.5,636.2 L248.0,635.5 L249.5,634.9 L251.0,634.2 L252.5,633.6 L254.0,632.9 L255.5,632.3 L257.0,631.7 L258.5,631.0 L260.0,630.4 L261.5,629.8 L263.0,629.2 L264.5,628.6 L266.0,628.0 L267.5,627.4 L269.0,626.9 L270.5,626.4 L272.0,625.9 L273.5,625.4 L275.0,625.0 L276.5,624.6 L278.0,624.2 L279.5,623.8 L281.0,623.5 L282.5,623.3 L284.0,623.1 L285.5,622.9 L287.0,622.8 L288.5,622.7 L290.0,622.6 L291.5,622.7 L293.0,622.8 L294.5,622.9 L296.0,623.1 L297.5,623.3 L299.0,623.6 L300.5,624.0 L302.0,624.4 L303.5,624.8 L305.0,625.3 L306.5,625.8 L308.0,626.4 L309.5,627.0 L311.0,627.6 L312.5,628.3 L314.0,629.0 L315.5,629.7 L317.0,630.5 L318.5,631.2 L320.0,632.0 L321.5,632.9 L323.0,633.7 L324.5,634.6 L326.0,635.5 L327.5,636.4 L329.0,637.3 L330.5,638.2 L332.0,639.1 L333.5,640.0 L335.0,640.9 L336.5,641.8 L338.0,642.6 L339.5,643.5 L341.0,644.3 L342.5,645.1 L344.0,645.9 L345.5,646.6 L347.0,647.3 L348.5,648.0 L350.0,648.6 L351.5,649.1 L353.0,649.6 L354.5,650.1 L356.0,650.5 L357.5,650.9 L359.0,651.2 L360.5,651.5 L362.0,651.7 L363.5,651.9 L365.0,652.0 L366.5,652.1 L368.0,652.2 L369.5,652.2 L371.0,652.2 L372.5,652.2 L374.0,652.1 L375.5,651.9 L377.0,651.8 L378.5,651.5 L380.0,651.2 L381.5,650.9 L383.0,650.5 L384.5,650.0 L386.0,649.5 L387.5,648.9 L389.0,648.2 L390.5,647.4 L392.0,646.5 L393.5,645.6 L395.0,644.6 L396.5,643.5 L398.0,642.3 L399.5,641.0 L401.0,639.7 L402.5,638.3 L404.0,636.9 L405.5,635.4 L407.0,633.9 L408.5,632.3 L410.0,630.7 L411.5,629.1 L413.0,627.5 L414.5,625.9 L416.0,624.2 L417.5,622.6 L419.0,620.9 L420.5,619.3 L422.0,617.7 L423.5,616.1 L425.0,614.5 L426.5,613.0 L428.0,611.4 L429.5,609.9 L431.0,608.4 L432.5,607.0 L434.0,605.6 L435.5,604.2 L437.0,602.9 L438.5,601.7 L440.0,600.4 L441.5,599.3 L443.0,598.2 L444.5,597.2 L446.0,596.2 L447.5,595.3 L449.0,594.5 L450.5,593.7 L452.0,593.1 L453.5,592.5 L455.0,592.1 L456.5,591.7 L458.0,591.4 L459.5,591.2 L461.0,591.2 L462.5,591.2 L464.0,591.4 L465.5,591.6 L467.0,592.0 L468.5,592.4 L470.0,593.0 L471.5,593.6 L473.0,594.3 L474.5,595.1 L476.0,595.9 L477.5,596.8 L479.0,597.8 L480.5,598.9 L482.0,600.0 L483.5,601.1 L485.0,602.3 L486.5,603.6 L488.0,604.9 L489.5,606.2 L491.0,607.6 L492.5,609.1 L494.0,610.6 L495.5,612.1 L497.0,613.7 L498.5,615.4 L500.0,617.0 L501.5,618.7 L503.0,620.3 L504.5,621.9 L506.0,623.5 L507.5,624.9 L509.0,626.3 L510.5,627.6 L512.0,628.8 L513.5,629.8 L515.0,630.7 L516.5,631.5 L518.0,632.2 L519.5,632.8 L521.0,633.2 L522.5,633.6 L524.0,633.9 L525.5,634.1 L527.0,634.3 L528.5,634.4 L530.0,634.4 L531.5,634.4 L533.0,634.4 L534.5,634.3 L536.0,634.2 L537.5,634.1 L539.0,633.9 L540.5,633.6 L542.0,633.3 L543.5,632.9 L545.0,632.5 L546.5,632.0 L548.0,631.4 L549.5,630.7 L551.0,629.9 L552.5,629.0 L554.0,628.0 L555.5,626.9 L557.0,625.7 L558.5,624.4 L560.0,622.9 L561.5,621.4 L563.0,619.7 L564.5,617.9 L566.0,615.9 L567.5,613.9 L569.0,611.6 L570.5,609.3 L572.0,606.8 L573.5,604.2 L575.0,601.4 L576.5,598.5 L578.0,595.5 L579.5,592.3 L581.0,589.0 L582.5,585.7 L584.0,582.3 L585.5,578.8 L587.0,575.4 L588.5,572.0 L590.0,568.6 L591.5,565.3 L593.0,562.1 L594.5,559.0 L596.0,556.1 L597.5,553.4 L599.0,550.8 L600.5,548.5 L602.0,546.5 L603.5,544.7 L605.0,543.1 L606.5,541.9 L608.0,540.9 L609.5,540.3 L611.0,539.9 L612.5,539.9 L614.0,540.1 L615.5,540.7 L617.0,541.6 L618.5,542.8 L620.0,544.3 L621.5,546.1 L623.0,548.1 L624.5,550.4 L626.0,552.9 L627.5,555.6 L629.0,558.5 L630.5,561.5 L632.0,564.6 L633.5,567.7 L635.0,570.8 L636.5,573.8 L638.0,576.6 L639.5,579.3 L641.0,581.9 L642.5,584.4 L644.0,586.7 L645.5,588.8 L647.0,590.8 L648.5,592.6 L650.0,594.2 L651.5,595.7 L653.0,597.0 L654.5,598.2 L656.0,599.3 L657.5,600.2 L659.0,601.0 L660.5,601.7 L662.0,602.3 L663.5,602.8 L665.0,603.2 L666.5,603.3 L668.0,603.4 L669.5,603.2 L671.0,602.9 L672.5,602.4 L674.0,601.7 L675.5,600.9 L677.0,599.9 L678.5,598.8 L680.0,597.5 L681.5,596.1 L683.0,594.6 L684.5,592.9 L686.0,591.1 L687.5,589.0 L689.0,586.8 L690.5,584.2 L692.0,581.3 L693.5,578.1 L695.0,574.6 L696.5,570.7 L698.0,566.5 L699.5,562.0 L701.0,557.1 L702.5,551.8 L704.0,546.3 L705.5,540.5 L707.0,534.5 L708.5,528.2 L710.0,521.7 L711.5,514.8 L713.0,507.5 L714.5,499.6 L716.0,491.2 L717.5,482.6 L719.0,474.1 L720.5,465.9 L722.0,458.4 L723.5,451.5 L725.0,445.5 L726.5,440.4 L728.0,436.2 L729.5,433.2 L731.0,431.3 L732.5,430.7 L734.0,431.4 L735.5,433.6 L737.0,437.5 L738.5,443.1 L740.0,450.3 L741.5,458.6 L743.0,467.0 L744.5,474.7 L746.0,481.9 L747.5,488.8 L749.0,495.5 L750.5,502.3 L752.0,508.8 L753.5,514.8 L755.0,519.9 L756.5,523.8 L758.0,526.5 L759.5,528.5 L761.0,529.9 L762.5,531.1 L764.0,532.0 L765.5,532.5 L767.0,532.4 L768.5,531.7 L770.0,530.7 L771.5,529.4 L773.0,528.0 L774.5,526.5 L776.0,525.0 L777.0,524.0" stroke="#0000ff" stroke-dasharray="13.1 8.1"/>
<path d="M80.0,651.2 L81.5,651.1 L83.0,651.1 L84.5,651.0 L86.0,650.9 L87.5,650.9 L89.0,650.8 L90.5,650.7 L92.0,650.7 L93.5,650.6 L95.0,650.5 L96.5,650.5 L98.0,650.4 L99.5,650.3 L101.0,650.3 L102.5,650.2 L104.0,650.1 L105.5,650.1 L107.0,650.0 L108.5,649.9 L110.0,649.9 L111.5,649.8 L113.0,649.7 L114.5,649.7 L116.0,649.6 L117.5,649.5 L119.0,649.5 L120.5,649.4 L122.0,649.3 L123.5,649.3 L125.0,649.2 L126.5,649.1 L128.0,649.0 L129.5,649.0 L131.0,648.9 L132.5,648.8 L134.0,648.8 L135.5,648.7 L137.0,648.6 L138.5,648.5 L140.0,648.5 L141.5,648.4 L143.0,648.3 L144.5,648.2 L146.0,648.2 L147.5,648.1 L149.0,648.0 L150.5,647.9 L152.0,647.8 L153.5,647.8 L155.0,647.7 L156.5,647.6 L158.0,647.5 L159.5,647.4 L161.0,647.4 L162.5,647.3 L164.0,647.2 L165.5,647.1 L167.0,647.0 L168.5,646.9 L170.0,646.8 L171.5,646.8 L173.0,646.7 L174.5,646.6 L176.0,646.5 L177.5,646.4 L179.0,646.3 L180.5,646.2 L182.0,646.1 L183.5,646.0 L185.0,645.9 L186.5,645.8 L188.0,645.7 L189.5,645.6 L191.0,645.5 L192.5,645.5 L194.0,645.4 L195.5,645.2 L197.0,645.1 L198.5,645.0 L200.0,644.9 L201.5,644.8 L203.0,644.7 L204.5,644.6 L206.0,644.5 L207.5,644.4 L209.0,644.3 L210.5,644.2 L212.0,644.1 L213.5,644.0 L215.0,643.9 L216.5,643.8 L218.0,643.6 L219.5,643.5 L221.0,643.4 L222.5,643.3 L224.0,643.2 L225.5,643.1 L227.0,643.0 L228.5,642.8 L230.0,642.7 L231.5,642.6 L233.0,642.5 L234.5,642.4 L236.0,642.2 L237.5,642.1 L239.0,642.0 L240.5,641.9 L242.0,641.7 L243.5,641.6 L245.0,641.5 L246.5,641.4 L248.0,641.2 L249.5,641.1 L251.0,641.0 L252.5,640.9 L254.0,640.7 L255.5,640.6 L257.0,640.5 L258.5,640.3 L260.0,640.2 L261.5,640.1 L263.0,639.9 L264.5,639.8 L266.0,639.7 L267.5,639.5 L269.0,639.4 L270.5,639.3 L272.0,639.1 L273.5,639.0 L275.0,638.8 L276.5,638.7 L278.0,638.6 L279.5,638.4 L281.0,638.3 L282.5,638.1 L284.0,638.0 L285.5,637.9 L287.0,637.7 L288.5,637.6 L290.0,637.4 L291.5,637.3 L293.0,637.1 L294.5,637.0 L296.0,636.8 L297.5,636.7 L299.0,636.6 L300.5,636.4 L302.0,636.3 L303.5,636.1 L305.0,636.0 L306.5,635.8 L308.0,635.7 L309.5,635.5 L311.0,635.4 L312.5,635.2 L314.0,635.1 L315.5,634.9 L317.0,634.8 L318.5,634.7 L320.0,634.5 L321.5,634.4 L323.0,634.2 L324.5,634.1 L326.0,633.9 L327.5,633.8 L329.0,633.6 L330.5,633.5 L332.0,633.3 L333.5,633.2 L335.0,633.0 L336.5,632.9 L338.0,632.7 L339.5,632.6 L341.0,632.5 L342.5,632.3 L344.0,632.2 L345.5,632.0 L347.0,631.9 L348.5,631.7 L350.0,631.6 L351.5,631.4 L353.0,631.3 L354.5,631.1 L356.0,631.0 L357.5,630.9 L359.0,630.7 L360.5,630.6 L362.0,630.4 L363.5,630.3 L365.0,630.2 L366.5,630.0 L368.0,629.9 L369.5,629.7 L371.0,629.6 L372.5,629.5 L374.0,629.3 L375.5,629.2 L377.0,629.0 L378.5,628.9 L380.0,628.8 L381.5,628.6 L383.0,628.5 L384.5,628.3 L386.0,628.2 L387.5,628.1 L389.0,627.9 L390.5,627.8 L392.0,627.6 L393.5,627.5 L395.0,627.3 L396.5,627.2 L398.0,627.0 L399.5,626.9 L401.0,626.7 L402.5,626.6 L404.0,626.4 L405.5,626.3 L407.0,626.1 L408.5,626.0 L410.0,625.8 L411.5,625.7 L413.0,625.5 L414.5,625.3 L416.0,625.2 L417.5,625.0 L419.0,624.9 L420.5,624.7 L422.0,624.5 L423.5,624.3 L425.0,624.2 L426.5,624.0 L428.0,623.8 L429.5,623.6 L431.0,623.5 L432.5,623.3 L434.0,623.1 L435.5,622.9 L437.0,622.7 L438.5,622.5 L440.0,622.3 L441.5,622.1 L443.0,621.9 L444.5,621.7 L446.0,621.5 L447.5,621.3 L449.0,621.1 L450.5,620.8 L452.0,620.6 L453.5,620.4 L455.0,620.2 L456.5,619.9 L458.0,619.7 L459.5,619.5 L461.0,619.2 L462.5,619.0 L464.0,618.7 L465.5,618.5 L467.0,618.2 L468.5,618.0 L470.0,617.7 L471.5,617.5 L473.0,617.2 L474.5,616.9 L476.0,616.7 L477.5,616.4 L479.0,616.1 L480.5,615.8 L482.0,615.6 L483.5,615.3 L485.0,615.0 L486.5,614.7 L488.0,614.4 L489.5,614.1 L491.0,613.8 L492.5,613.5 L494.0,613.2 L495.5,612.9 L497.0,612.6 L498.5,612.3 L500.0,612.0 L501.5,611.7 L503.0,611.4 L504.5,611.1 L506.0,610.8 L507.5,610.5 L509.0,610.2 L510.5,609.9 L512.0,609.6 L513.5,609.3 L515.0,609.0 L516.5,608.6 L518.0,608.3 L519.5,608.0 L521.0,607.7 L522.5,607.4 L524.0,607.1 L525.5,606.8 L527.0,606.4 L528.5,606.1 L530.0,605.8 L531.5,605.5 L533.0,605.2 L534.5,604.9 L536.0,604.6 L537.5,604.3 L539.0,603.9 L540.5,603.6 L542.0,603.3 L543.5,603.0 L545.0,602.7 L546.5,602.4 L548.0,602.1 L549.5,601.8 L551.0,601.5 L552.5,601.2 L554.0,600.9 L555.5,600.6 L557.0,600.3 L558.5,599.9 L560.0,599.6 L561.5,599.3 L563.0,599.0 L564.5,598.7 L566.0,598.4 L567.5,598.1 L569.0,597.7 L570.5,597.4 L572.0,597.1 L573.5,596.8 L575.0,596.5 L576.5,596.1 L578.0,595.8 L579.5,595.5 L581.0,595.1 L582.5,594.8 L584.0,594.4 L585.5,594.1 L587.0,593.7 L588.5,593.4 L590.0,593.0 L591.5,592.6 L593.0,592.3 L594.5,591.9 L596.0,591.5 L597.5,591.1 L599.0,590.8 L600.5,590.4 L602.0,590.0 L603.5,589.6 L605.0,589.2 L606.5,588.7 L608.0,588.3 L609.5,587.9 L611.0,587.5 L612.5,587.0 L614.0,586.6 L615.5,586.1 L617.0,585.7 L618.5,585.2 L620.0,584.7 L621.5,584.3 L623.0,583.8 L624.5,583.3 L626.0,582.8 L627.5,582.3 L629.0,581.7 L630.5,581.2 L632.0,580.7 L633.5,580.1 L635.0,579.6 L636.5,579.0 L638.0,578.4 L639.5,577.9 L641.0,577.3 L642.5,576.7 L644.0,576.0 L645.5,575.4 L647.0,574.8 L648.5,574.1 L650.0,573.5 L651.5,572.8 L653.0,572.1 L654.5,571.4 L656.0,570.6 L657.5,569.9 L659.0,569.1 L660.5,568.3 L662.0,567.5 L663.5,566.7 L665.0,565.8 L666.5,564.9 L668.0,564.0 L669.5,563.1 L671.0,562.2 L672.5,561.2 L674.0,560.3 L675.5,559.3 L677.0,558.3 L678.5,557.3 L680.0,556.3 L681.5,555.3 L683.0,554.3 L684.5,553.3 L686.0,552.2 L687.5,551.2 L689.0,550.2 L690.5,549.2 L692.0,548.1 L693.5,547.1 L695.0,546.1 L696.5,545.0 L698.0,543.9 L699.5,542.9 L701.0,541.8 L702.5,540.6 L704.0,539.5 L705.5,538.3 L707.0,537.1 L708.5,535.8 L710.0,534.6 L711.5,533.2 L713.0,531.9 L714.5,530.5 L716.0,529.0 L717.5,527.6 L719.0,526.1 L720.5,524.6 L722.0,523.0 L723.5,521.5 L725.0,519.9 L726.5,518.3 L728.0,516.7 L729.5,515.1 L731.0,513.4 L732.5,511.8 L734.0,510.1 L735.5,508.5 L737.0,506.8 L738.5,505.0 L740.0,503.3 L741.5,501.5 L743.0,499.7 L744.5,497.8 L746.0,495.9 L747.5,493.9 L749.0,491.9 L750.5,489.8 L752.0,487.6 L753.5,485.3 L755.0,483.0 L756.5,480.5 L758.0,478.0 L759.5,475.3 L761.0,472.6 L762.5,469.7 L764.0,466.7 L765.5,463.6 L767.0,460.3 L768.5,457.0 L770.0,453.6 L771.5,450.1 L773.0,446.6 L774.5,443.0 L776.0,439.4 L777.0,437.0" stroke="#ff0000" stroke-dasharray="13.1 8.1"/>
<path d="M81.8,707.5 L84.4,705.6 L87.0,697.3 L90.2,705.6 L92.7,710.5 L96.6,709.7 L99.1,701.8 L102.1,692.5 L104.9,701.8 L107.7,714.8 L110.7,709.2 L113.2,709.7 L117.7,709.2 L122.2,704.3 L126.7,703.9 L131.8,704.7 L135.0,705.6 L138.2,703.3 L142.0,703.7 L146.5,705.0 L151.0,703.0 L156.1,701.1 L159.9,702.8 L165.1,701.8 L170.2,702.8 L178.0,703.7 L179.5,703.7 L181.0,703.7 L182.5,703.7 L184.0,703.7 L185.5,703.7 L187.0,703.7 L188.5,703.7 L190.0,703.7 L191.5,703.7 L193.0,703.7 L194.5,703.7 L196.0,703.7 L197.5,703.7 L199.0,703.7 L200.5,703.7 L202.0,703.7 L203.5,703.7 L205.0,703.7 L206.5,703.7 L208.0,703.7 L209.5,703.7 L211.0,703.7 L212.5,703.7 L214.0,703.8 L215.5,703.8 L217.0,703.8 L218.5,703.8 L220.0,703.8 L221.5,703.8 L223.0,703.8 L224.5,703.8 L226.0,703.8 L227.5,703.8 L229.0,703.8 L230.5,703.8 L232.0,703.8 L233.5,703.8 L235.0,703.8 L236.5,703.7 L238.0,703.7 L239.5,703.7 L241.0,703.7 L242.5,703.6 L244.0,703.6 L245.5,703.6 L247.0,703.5 L248.5,703.5 L250.0,703.5 L251.5,703.4 L253.0,703.4 L254.5,703.3 L256.0,703.3 L257.5,703.3 L259.0,703.2 L260.5,703.2 L262.0,703.2 L263.5,703.1 L265.0,703.1 L266.5,703.0 L268.0,703.0 L269.5,702.9 L271.0,702.9 L272.5,702.9 L274.0,702.8 L275.5,702.8 L277.0,702.7 L278.5,702.7 L280.0,702.6 L281.5,702.5 L283.0,702.5 L284.5,702.4 L286.0,702.4 L287.5,702.3 L289.0,702.2 L290.5,702.2 L292.0,702.1 L293.5,702.0 L295.0,701.9 L296.5,701.8 L298.0,701.7 L299.5,701.6 L301.0,701.5 L302.5,701.3 L304.0,701.2 L305.5,701.1 L307.0,700.9 L308.5,700.8 L310.0,700.6 L311.5,700.5 L313.0,700.3 L314.5,700.1 L316.0,700.0 L317.5,699.8 L319.0,699.6 L320.5,699.4 L322.0,699.3 L323.5,699.1 L325.0,698.8 L326.5,698.6 L328.0,698.4 L329.5,698.2 L331.0,697.9 L332.5,697.7 L334.0,697.4 L335.5,697.1 L337.0,696.9 L338.5,696.6 L340.0,696.4 L341.5,696.2 L343.0,695.9 L344.5,695.7 L346.0,695.5 L347.5,695.3 L349.0,695.1 L350.5,694.9 L352.0,694.8 L353.5,694.6 L355.0,694.5 L356.5,694.3 L358.0,694.2 L359.5,694.1 L361.0,694.0 L362.5,693.9 L364.0,693.8 L365.5,693.7 L367.0,693.6 L368.5,693.5 L370.0,693.4 L371.5,693.4 L373.0,693.3 L374.5,693.3 L376.0,693.3 L377.5,693.3 L379.0,693.2 L380.5,693.2 L382.0,693.2 L383.5,693.2 L385.0,693.2 L386.5,693.2 L388.0,693.2 L389.5,693.2 L391.0,693.2 L392.5,693.2 L394.0,693.2 L395.5,693.2 L397.0,693.2 L398.5,693.2 L400.0,693.2 L401.5,693.2 L403.0,693.2 L404.5,693.3 L406.0,693.3 L407.5,693.3 L409.0,693.3 L410.5,693.4 L412.0,693.4 L413.5,693.4 L415.0,693.4 L416.5,693.5 L418.0,693.5 L419.5,693.5 L421.0,693.6 L422.5,693.6 L424.0,693.6 L425.5,693.7 L427.0,693.7 L428.5,693.7 L430.0,693.8 L431.5,693.8 L433.0,693.8 L434.5,693.8 L436.0,693.9 L437.5,693.9 L439.0,693.9 L440.5,693.9 L442.0,693.9 L443.5,693.9 L445.0,693.9 L446.5,693.9 L448.0,693.9 L449.5,693.8 L451.0,693.8 L452.5,693.7 L454.0,693.7 L455.5,693.6 L457.0,693.6 L458.5,693.5 L460.0,693.4 L461.5,693.3 L463.0,693.2 L464.5,693.1 L466.0,692.9 L467.5,692.8 L469.0,692.6 L470.5,692.3 L472.0,692.1 L473.5,691.9 L475.0,691.6 L476.5,691.3 L478.0,691.0 L479.5,690.7 L481.0,690.3 L482.5,690.0 L484.0,689.7 L485.5,689.4 L487.0,689.0 L488.5,688.7 L490.0,688.4 L491.5,688.0 L493.0,687.7 L494.5,687.3 L496.0,687.0 L497.5,686.6 L499.0,686.2 L500.5,685.8 L502.0,685.5 L503.5,685.1 L505.0,684.7 L506.5,684.4 L508.0,684.0 L509.5,683.7 L511.0,683.3 L512.5,683.0 L514.0,682.8 L515.5,682.5 L517.0,682.3 L518.5,682.1 L520.0,681.9 L521.5,681.7 L523.0,681.5 L524.5,681.4 L526.0,681.3 L527.5,681.1 L529.0,681.0 L530.5,680.9 L532.0,680.8 L533.5,680.7 L535.0,680.6 L536.5,680.5 L538.0,680.4 L539.5,680.3 L541.0,680.2 L542.5,680.1 L544.0,680.0 L545.5,679.9 L547.0,679.9 L548.5,679.8 L550.0,679.7 L551.5,679.7 L553.0,679.6 L554.5,679.6 L556.0,679.5 L557.5,679.5 L559.0,679.4 L560.5,679.4 L562.0,679.4 L563.5,679.4 L565.0,679.4 L566.5,679.5 L568.0,679.6 L569.5,679.7 L571.0,679.8 L572.5,680.0 L574.0,680.1 L575.5,680.3 L577.0,680.5 L578.5,680.7 L580.0,680.9 L581.5,681.2 L583.0,681.4 L584.5,681.6 L586.0,681.8 L587.5,681.9 L589.0,682.1 L590.5,682.2 L592.0,682.4 L593.5,682.5 L595.0,682.6 L596.5,682.7 L598.0,682.8 L599.5,682.9 L601.0,682.9 L602.5,682.9 L604.0,682.9 L605.5,682.8 L607.0,682.7 L608.5,682.6 L610.0,682.5 L611.5,682.2 L613.0,682.0 L614.5,681.6 L616.0,681.2 L617.5,680.7 L619.0,680.1 L620.5,679.5 L622.0,678.8 L623.5,678.1 L625.0,677.3 L626.5,676.5 L628.0,675.7 L629.5,674.8 L631.0,673.9 L632.5,673.0 L634.0,672.1 L635.5,671.2 L637.0,670.3 L638.5,669.4 L640.0,668.5 L641.5,667.6 L643.0,666.7 L644.5,665.8 L646.0,664.9 L647.5,664.0 L649.0,663.2 L650.5,662.3 L652.0,661.5 L653.5,660.8 L655.0,660.1 L656.5,659.6 L658.0,659.0 L659.5,658.5 L661.0,657.9 L662.5,657.4 L664.0,656.8 L665.5,656.3 L667.0,655.8 L668.5,655.3 L670.0,654.9 L671.5,654.6 L673.0,654.3 L674.5,654.2 L676.0,654.0 L677.5,654.0 L679.0,654.0 L680.5,654.0 L682.0,654.1 L683.5,654.2 L685.0,654.4 L686.5,654.6 L688.0,654.8 L689.5,655.1 L691.0,655.4 L692.5,655.7 L694.0,656.1 L695.5,656.5 L697.0,656.9 L698.5,657.3 L700.0,657.7 L701.5,658.0 L703.0,658.2 L704.5,658.3 L706.0,658.2 L707.5,658.1 L709.0,657.8 L710.5,657.1 L712.0,655.9 L713.5,654.2 L715.0,652.2 L716.5,650.0 L718.0,647.2 L719.5,643.6 L721.0,639.8 L722.5,636.5 L724.0,634.1 L725.5,632.4 L727.0,631.4 L728.5,630.9 L730.0,631.1 L731.5,632.7 L733.0,635.8 L734.5,640.2 L736.0,646.4 L737.5,653.7 L739.0,661.3 L740.5,668.3 L742.0,674.0 L743.5,678.8 L745.0,682.6 L746.5,685.3 L748.0,686.4 L749.5,684.0 L751.0,678.0 L752.5,668.8 L754.0,657.2 L755.5,641.9 L757.0,624.8 L758.5,607.7 L760.0,590.7 L761.5,573.6 L763.0,557.1 L764.5,544.1 L766.0,534.4 L767.5,534.7 L769.0,542.1 L770.5,553.6 L772.0,566.0 L773.5,579.5 L775.0,594.3 L776.5,605.2 L776.6,605.5" stroke="#0000ff"/>
<path d="M80.0,706.3 L81.5,706.3 L83.0,706.2 L84.5,706.2 L86.0,706.1 L87.5,706.1 L89.0,706.0 L90.5,706.0 L92.0,705.9 L93.5,705.9 L95.0,705.8 L96.5,705.8 L98.0,705.7 L99.5,705.7 L101.0,705.6 L102.5,705.6 L104.0,705.5 L105.5,705.5 L107.0,705.4 L108.5,705.4 L110.0,705.3 L111.5,705.3 L113.0,705.2 L114.5,705.2 L116.0,705.1 L117.5,705.1 L119.0,705.0 L120.5,705.0 L122.0,704.9 L123.5,704.9 L125.0,704.9 L126.5,704.8 L128.0,704.8 L129.5,704.7 L131.0,704.7 L132.5,704.6 L134.0,704.6 L135.5,704.5 L137.0,704.5 L138.5,704.4 L140.0,704.4 L141.5,704.4 L143.0,704.3 L144.5,704.3 L146.0,704.2 L147.5,704.2 L149.0,704.1 L150.5,704.1 L152.0,704.1 L153.5,704.0 L155.0,704.0 L156.5,703.9 L158.0,703.9 L159.5,703.9 L161.0,703.8 L162.5,703.8 L164.0,703.7 L165.5,703.7 L167.0,703.7 L168.5,703.6 L170.0,703.6 L171.5,703.6 L173.0,703.5 L174.5,703.5 L176.0,703.4 L177.5,703.4 L179.0,703.4 L180.5,703.3 L182.0,703.3 L183.5,703.3 L185.0,703.2 L186.5,703.2 L188.0,703.2 L189.5,703.1 L191.0,703.1 L192.5,703.1 L194.0,703.1 L195.5,703.0 L197.0,703.0 L198.5,703.0 L200.0,702.9 L201.5,702.9 L203.0,702.9 L204.5,702.8 L206.0,702.8 L207.5,702.8 L209.0,702.7 L210.5,702.7 L212.0,702.7 L213.5,702.6 L215.0,702.6 L216.5,702.6 L218.0,702.5 L219.5,702.5 L221.0,702.5 L222.5,702.4 L224.0,702.4 L225.5,702.4 L227.0,702.3 L228.5,702.3 L230.0,702.3 L231.5,702.2 L233.0,702.2 L234.5,702.2 L236.0,702.1 L237.5,702.1 L239.0,702.0 L240.5,702.0 L242.0,702.0 L243.5,701.9 L245.0,701.9 L246.5,701.8 L248.0,701.8 L249.5,701.7 L251.0,701.7 L252.5,701.7 L254.0,701.6 L255.5,701.6 L257.0,701.5 L258.5,701.5 L260.0,701.4 L261.5,701.3 L263.0,701.3 L264.5,701.2 L266.0,701.2 L267.5,701.1 L269.0,701.1 L270.5,701.0 L272.0,700.9 L273.5,700.9 L275.0,700.8 L276.5,700.8 L278.0,700.7 L279.5,700.6 L281.0,700.6 L282.5,700.5 L284.0,700.4 L285.5,700.4 L287.0,700.3 L288.5,700.2 L290.0,700.2 L291.5,700.1 L293.0,700.0 L294.5,699.9 L296.0,699.9 L297.5,699.8 L299.0,699.7 L300.5,699.7 L302.0,699.6 L303.5,699.5 L305.0,699.4 L306.5,699.4 L308.0,699.3 L309.5,699.2 L311.0,699.1 L312.5,699.0 L314.0,699.0 L315.5,698.9 L317.0,698.8 L318.5,698.7 L320.0,698.7 L321.5,698.6 L323.0,698.5 L324.5,698.4 L326.0,698.3 L327.5,698.3 L329.0,698.2 L330.5,698.1 L332.0,698.0 L333.5,698.0 L335.0,697.9 L336.5,697.8 L338.0,697.7 L339.5,697.6 L341.0,697.6 L342.5,697.5 L344.0,697.4 L345.5,697.3 L347.0,697.3 L348.5,697.2 L350.0,697.1 L351.5,697.0 L353.0,696.9 L354.5,696.9 L356.0,696.8 L357.5,696.7 L359.0,696.6 L360.5,696.6 L362.0,696.5 L363.5,696.4 L365.0,696.4 L366.5,696.3 L368.0,696.2 L369.5,696.1 L371.0,696.1 L372.5,696.0 L374.0,695.9 L375.5,695.9 L377.0,695.8 L378.5,695.7 L380.0,695.6 L381.5,695.6 L383.0,695.5 L384.5,695.4 L386.0,695.4 L387.5,695.3 L389.0,695.2 L390.5,695.1 L392.0,695.1 L393.5,695.0 L395.0,694.9 L396.5,694.9 L398.0,694.8 L399.5,694.7 L401.0,694.6 L402.5,694.6 L404.0,694.5 L405.5,694.4 L407.0,694.3 L408.5,694.3 L410.0,694.2 L411.5,694.1 L413.0,694.0 L414.5,693.9 L416.0,693.9 L417.5,693.8 L419.0,693.7 L420.5,693.6 L422.0,693.5 L423.5,693.4 L425.0,693.3 L426.5,693.3 L428.0,693.2 L429.5,693.1 L431.0,693.0 L432.5,692.9 L434.0,692.8 L435.5,692.7 L437.0,692.6 L438.5,692.5 L440.0,692.4 L441.5,692.3 L443.0,692.2 L444.5,692.1 L446.0,692.0 L447.5,691.9 L449.0,691.8 L450.5,691.6 L452.0,691.5 L453.5,691.4 L455.0,691.3 L456.5,691.2 L458.0,691.1 L459.5,691.0 L461.0,690.8 L462.5,690.7 L464.0,690.6 L465.5,690.5 L467.0,690.3 L468.5,690.2 L470.0,690.1 L471.5,689.9 L473.0,689.8 L474.5,689.7 L476.0,689.5 L477.5,689.4 L479.0,689.3 L480.5,689.1 L482.0,689.0 L483.5,688.9 L485.0,688.7 L486.5,688.6 L488.0,688.4 L489.5,688.3 L491.0,688.2 L492.5,688.0 L494.0,687.9 L495.5,687.7 L497.0,687.6 L498.5,687.4 L500.0,687.3 L501.5,687.1 L503.0,687.0 L504.5,686.8 L506.0,686.7 L507.5,686.5 L509.0,686.4 L510.5,686.2 L512.0,686.0 L513.5,685.9 L515.0,685.7 L516.5,685.6 L518.0,685.4 L519.5,685.3 L521.0,685.1 L522.5,684.9 L524.0,684.8 L525.5,684.6 L527.0,684.5 L528.5,684.3 L530.0,684.1 L531.5,684.0 L533.0,683.8 L534.5,683.6 L536.0,683.5 L537.5,683.3 L539.0,683.1 L540.5,683.0 L542.0,682.8 L543.5,682.6 L545.0,682.5 L546.5,682.3 L548.0,682.1 L549.5,682.0 L551.0,681.8 L552.5,681.6 L554.0,681.4 L555.5,681.3 L557.0,681.1 L558.5,680.9 L560.0,680.7 L561.5,680.6 L563.0,680.4 L564.5,680.2 L566.0,680.0 L567.5,679.8 L569.0,679.6 L570.5,679.4 L572.0,679.2 L573.5,679.1 L575.0,678.9 L576.5,678.7 L578.0,678.5 L579.5,678.3 L581.0,678.0 L582.5,677.8 L584.0,677.6 L585.5,677.4 L587.0,677.2 L588.5,677.0 L590.0,676.8 L591.5,676.5 L593.0,676.3 L594.5,676.1 L596.0,675.8 L597.5,675.6 L599.0,675.3 L600.5,675.1 L602.0,674.9 L603.5,674.6 L605.0,674.3 L606.5,674.1 L608.0,673.8 L609.5,673.5 L611.0,673.3 L612.5,673.0 L614.0,672.7 L615.5,672.4 L617.0,672.1 L618.5,671.9 L620.0,671.6 L621.5,671.3 L623.0,671.0 L624.5,670.7 L626.0,670.4 L627.5,670.1 L629.0,669.8 L630.5,669.5 L632.0,669.1 L633.5,668.8 L635.0,668.5 L636.5,668.2 L638.0,667.9 L639.5,667.6 L641.0,667.3 L642.5,667.0 L644.0,666.7 L645.5,666.4 L647.0,666.1 L648.5,665.8 L650.0,665.4 L651.5,665.1 L653.0,664.8 L654.5,664.5 L656.0,664.2 L657.5,663.8 L659.0,663.5 L660.5,663.2 L662.0,662.9 L663.5,662.5 L665.0,662.2 L666.5,661.8 L668.0,661.5 L669.5,661.1 L671.0,660.8 L672.5,660.4 L674.0,660.0 L675.5,659.6 L677.0,659.2 L678.5,658.8 L680.0,658.4 L681.5,658.0 L683.0,657.6 L684.5,657.2 L686.0,656.7 L687.5,656.3 L689.0,655.8 L690.5,655.4 L692.0,654.9 L693.5,654.4 L695.0,653.9 L696.5,653.4 L698.0,652.9 L699.5,652.3 L701.0,651.8 L702.5,651.3 L704.0,650.7 L705.5,650.1 L707.0,649.5 L708.5,649.0 L710.0,648.4 L711.5,647.7 L713.0,647.1 L714.5,646.5 L716.0,645.9 L717.5,645.2 L719.0,644.5 L720.5,643.9 L722.0,643.2 L723.5,642.5 L725.0,641.8 L726.5,641.0 L728.0,640.3 L729.5,639.5 L731.0,638.7 L732.5,637.9 L734.0,637.1 L735.5,636.2 L737.0,635.3 L738.5,634.4 L740.0,633.4 L741.5,632.4 L743.0,631.3 L744.5,630.3 L746.0,629.1 L747.5,627.9 L749.0,626.7 L750.5,625.5 L752.0,624.2 L753.5,623.0 L755.0,621.7 L756.5,620.3 L758.0,619.0 L759.5,617.7 L761.0,616.4 L762.5,615.1 L764.0,613.7 L765.5,612.4 L767.0,611.1 L768.5,609.8 L770.0,608.5 L771.5,607.2 L773.0,605.9 L774.5,604.7 L776.0,603.4 L777.0,602.5" stroke="#ff0000"/>
</g>
<g>
<path d="M390.5,173.8L457.4,290.0M457.4,278.5L457.4,290.0L447.4,284.3" fill="none" stroke="#ff0000" stroke-width="2.85" stroke-linejoin="miter" stroke-linecap="butt"/>
<path d="M321.2,263.0L349.8,280.6M344.3,270.5L349.8,280.6L338.3,280.3" fill="none" stroke="#0000ff" stroke-width="2.85" stroke-linejoin="miter" stroke-linecap="butt"/>
<path d="M609.1,221.0L709.0,296.3M704.5,285.7L709.0,296.3L697.6,294.9" fill="none" stroke="#ff0000" stroke-width="2.85" stroke-linejoin="miter" stroke-linecap="butt"/>
<path d="M713.3,349.2L723.1,328.1M713.7,334.7L723.1,328.1L724.2,339.5" fill="none" stroke="#0000ff" stroke-width="2.85" stroke-linejoin="miter" stroke-linecap="butt"/>
<path d="M240.3,582.2L273.8,613.9M270.5,602.9L273.8,613.9L262.6,611.2" fill="none" stroke="#0000ff" stroke-width="2.85" stroke-linejoin="miter" stroke-linecap="butt"/>
<path d="M476.0,539.5L538.8,595.9M535.3,585.0L538.8,595.9L527.6,593.6" fill="none" stroke="#ff0000" stroke-width="2.85" stroke-linejoin="miter" stroke-linecap="butt"/>
<path d="M508.9,714.3L536.9,688.5M525.6,691.0L536.9,688.5L533.4,699.5" fill="none" stroke="#ff0000" stroke-width="2.85" stroke-linejoin="miter" stroke-linecap="butt"/>
<path d="M666.1,721.5L740.1,688.2M728.7,687.1L740.1,688.2L733.4,697.6" fill="none" stroke="#0000ff" stroke-width="2.85" stroke-linejoin="miter" stroke-linecap="butt"/>
</g>
<g fill="none" stroke="#000" stroke-width="1.6" stroke-linecap="butt">
<path d="M111.72,4.60L111.72,13.30 M111.72,373.90L111.72,391.30 M111.72,752.50L111.72,761.20 M141.93,4.60L141.93,13.30 M141.93,373.90L141.93,391.30 M141.93,752.50L141.93,761.20 M172.15,4.60L172.15,13.30 M172.15,373.90L172.15,391.30 M172.15,752.50L172.15,761.20 M202.37,4.60L202.37,13.30 M202.37,373.90L202.37,391.30 M202.37,752.50L202.37,761.20 M232.59,4.60L232.59,21.60 M232.59,365.60L232.59,399.60 M232.59,744.20L232.59,761.20 M262.80,4.60L262.80,13.30 M262.80,373.90L262.80,391.30 M262.80,752.50L262.80,761.20 M293.02,4.60L293.02,13.30 M293.02,373.90L293.02,391.30 M293.02,752.50L293.02,761.20 M323.24,4.60L323.24,13.30 M323.24,373.90L323.24,391.30 M323.24,752.50L323.24,761.20 M353.46,4.60L353.46,13.30 M353.46,373.90L353.46,391.30 M353.46,752.50L353.46,761.20 M383.67,4.60L383.67,21.60 M383.67,365.60L383.67,399.60 M383.67,744.20L383.67,761.20 M413.89,4.60L413.89,13.30 M413.89,373.90L413.89,391.30 M413.89,752.50L413.89,761.20 M444.11,4.60L444.11,13.30 M444.11,373.90L444.11,391.30 M444.11,752.50L444.11,761.20 M474.33,4.60L474.33,13.30 M474.33,373.90L474.33,391.30 M474.33,752.50L474.33,761.20 M504.54,4.60L504.54,13.30 M504.54,373.90L504.54,391.30 M504.54,752.50L504.54,761.20 M534.76,4.60L534.76,21.60 M534.76,365.60L534.76,399.60 M534.76,744.20L534.76,761.20 M564.98,4.60L564.98,13.30 M564.98,373.90L564.98,391.30 M564.98,752.50L564.98,761.20 M595.20,4.60L595.20,13.30 M595.20,373.90L595.20,391.30 M595.20,752.50L595.20,761.20 M625.41,4.60L625.41,13.30 M625.41,373.90L625.41,391.30 M625.41,752.50L625.41,761.20 M655.63,4.60L655.63,13.30 M655.63,373.90L655.63,391.30 M655.63,752.50L655.63,761.20 M685.85,4.60L685.85,21.60 M685.85,365.60L685.85,399.60 M685.85,744.20L685.85,761.20 M716.07,4.60L716.07,13.30 M716.07,373.90L716.07,391.30 M716.07,752.50L716.07,761.20 M746.28,4.60L746.28,13.30 M746.28,373.90L746.28,391.30 M746.28,752.50L746.28,761.20 M81.50,368.06L90.20,368.06 M767.80,368.06L776.50,368.06 M81.50,353.52L90.20,353.52 M767.80,353.52L776.50,353.52 M81.50,338.98L90.20,338.98 M767.80,338.98L776.50,338.98 M81.50,324.45L90.20,324.45 M767.80,324.45L776.50,324.45 M81.50,309.91L98.50,309.91 M759.50,309.91L776.50,309.91 M81.50,295.37L90.20,295.37 M767.80,295.37L776.50,295.37 M81.50,280.83L90.20,280.83 M767.80,280.83L776.50,280.83 M81.50,266.29L90.20,266.29 M767.80,266.29L776.50,266.29 M81.50,251.75L90.20,251.75 M767.80,251.75L776.50,251.75 M81.50,237.22L98.50,237.22 M759.50,237.22L776.50,237.22 M81.50,222.68L90.20,222.68 M767.80,222.68L776.50,222.68 M81.50,208.14L90.20,208.14 M767.80,208.14L776.50,208.14 M81.50,193.60L90.20,193.60 M767.80,193.60L776.50,193.60 M81.50,179.06L90.20,179.06 M767.80,179.06L776.50,179.06 M81.50,164.52L98.50,164.52 M759.50,164.52L776.50,164.52 M81.50,149.98L90.20,149.98 M767.80,149.98L776.50,149.98 M81.50,135.45L90.20,135.45 M767.80,135.45L776.50,135.45 M81.50,120.91L90.20,120.91 M767.80,120.91L776.50,120.91 M81.50,106.37L90.20,106.37 M767.80,106.37L776.50,106.37 M81.50,91.83L98.50,91.83 M759.50,91.83L776.50,91.83 M81.50,77.29L90.20,77.29 M767.80,77.29L776.50,77.29 M81.50,62.75L90.20,62.75 M767.80,62.75L776.50,62.75 M81.50,48.22L90.20,48.22 M767.80,48.22L776.50,48.22 M81.50,33.68L90.20,33.68 M767.80,33.68L776.50,33.68 M81.50,19.14L98.50,19.14 M759.50,19.14L776.50,19.14 M81.50,729.65L90.20,729.65 M767.80,729.65L776.50,729.65 M81.50,698.10L98.50,698.10 M759.50,698.10L776.50,698.10 M81.50,666.55L90.20,666.55 M767.80,666.55L776.50,666.55 M81.50,635.00L98.50,635.00 M759.50,635.00L776.50,635.00 M81.50,603.45L90.20,603.45 M767.80,603.45L776.50,603.45 M81.50,571.90L98.50,571.90 M759.50,571.90L776.50,571.90 M81.50,540.35L90.20,540.35 M767.80,540.35L776.50,540.35 M81.50,508.80L98.50,508.80 M759.50,508.80L776.50,508.80 M81.50,477.25L90.20,477.25 M767.80,477.25L776.50,477.25 M81.50,445.70L98.50,445.70 M759.50,445.70L776.50,445.70 M81.50,414.15L90.20,414.15 M767.80,414.15L776.50,414.15"/>
<rect x="81.5" y="4.6" width="695.0" height="756.6"/>
<path d="M81.5,382.6L776.5,382.6"/>
</g>
<g>
<text x="73.0" y="392.8" font-size="30.5" fill="#000" text-anchor="end">0.000</text>
<text x="73.0" y="320.1" font-size="30.5" fill="#000" text-anchor="end">0.005</text>
<text x="73.0" y="247.4" font-size="30.5" fill="#000" text-anchor="end">0.010</text>
<text x="73.0" y="174.7" font-size="30.5" fill="#000" text-anchor="end">0.015</text>
<text x="73.0" y="102.0" font-size="30.5" fill="#000" text-anchor="end">0.020</text>
<text x="73.0" y="29.3" font-size="30.5" fill="#000" text-anchor="end">0.025</text>
<text x="73.0" y="771.4" font-size="30.5" fill="#000" text-anchor="end">0.0</text>
<text x="73.0" y="708.3" font-size="30.5" fill="#000" text-anchor="end">0.1</text>
<text x="73.0" y="645.2" font-size="30.5" fill="#000" text-anchor="end">0.2</text>
<text x="73.0" y="582.1" font-size="30.5" fill="#000" text-anchor="end">0.3</text>
<text x="73.0" y="519.0" font-size="30.5" fill="#000" text-anchor="end">0.4</text>
<text x="73.0" y="455.9" font-size="30.5" fill="#000" text-anchor="end">0.5</text>
<text x="82.0" y="790.7" font-size="30.5" fill="#000" text-anchor="middle">3700</text>
<text x="233.1" y="790.7" font-size="30.5" fill="#000" text-anchor="middle">3750</text>
<text x="384.2" y="790.7" font-size="30.5" fill="#000" text-anchor="middle">3800</text>
<text x="535.3" y="790.7" font-size="30.5" fill="#000" text-anchor="middle">3850</text>
<text x="686.3" y="790.7" font-size="30.5" fill="#000" text-anchor="middle">3900</text>
<text x="429.2" y="825.3" font-size="36" fill="#000" text-anchor="middle">t/M</text>
<text x="120.6" y="58.0" font-size="42.7" fill="#000" text-anchor="start">Amplitude</text>
<text x="315.6" y="58.0" font-size="42.7" fill="#000" text-anchor="start" transform="translate(0,1.5)">|</text>
<text x="324.6" y="58.0" font-size="42.7" fill="#000" text-anchor="start">h</text>
<text x="347.0" y="74.6" font-size="28.5" fill="#000" text-anchor="start">lm</text>
<text x="378.0" y="58.0" font-size="42.7" fill="#000" text-anchor="start" transform="translate(0,1.5)">|</text>
<text x="397.8" y="58.0" font-size="42.7" fill="#000" text-anchor="start">R/M</text>
<text x="112.3" y="434.9" font-size="42.7" fill="#000" text-anchor="start">Frequency</text>
<text x="305.0" y="434.9" font-size="42.7" fill="#000" text-anchor="start">M</text>
<text x="354.6" y="435.2" font-size="46" fill="#000" text-anchor="start" stroke="#000" stroke-width="1.1">&#969;</text>
<text x="384.8" y="452.2" font-size="28.5" fill="#000" text-anchor="start">lm</text>
<text x="262.5" y="165.0" font-size="30.5" fill="#ff0000" text-anchor="start">EOB (4,4)</text>
<text x="206.8" y="259.0" font-size="30.5" fill="#0000ff" text-anchor="start">NR (4,4)</text>
<text x="479.3" y="216.5" font-size="30.5" fill="#ff0000" text-anchor="start">EOB (3,2)</text>
<text x="598.3" y="360.3" font-size="30.5" fill="#0000ff" text-anchor="start">NR (3,2)</text>
<text x="128.7" y="576.9" font-size="30.5" fill="#0000ff" text-anchor="start">NR (4,4)</text>
<text x="343.9" y="535.3" font-size="30.5" fill="#ff0000" text-anchor="start">EOB (4,4)</text>
<text x="377.3" y="736.7" font-size="30.5" fill="#ff0000" text-anchor="start">EOB (3,2)</text>
<text x="552.3" y="738.2" font-size="30.5" fill="#0000ff" text-anchor="start">NR (3,2)</text>
</g>
</svg>
</body>
</html>
